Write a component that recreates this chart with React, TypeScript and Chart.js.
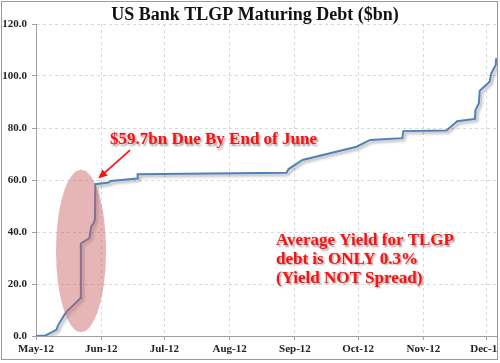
import React, { useEffect, useRef } from "react";
import { Chart, registerables } from "chart.js";

Chart.register(...registerables);

// Days after 1 May 2012 and cumulative maturing debt ($bn)
const dayOffsets = [
  0, 4.5, 7.4, 9.8, 10.4, 13.8, 14.6, 21.1, 21.3, 25.3, 26.3, 27.3, 28.0, 28.2,
  34.5, 35.5, 48.0, 48.3, 119.0, 120.0, 126.6, 152.3, 158.7, 174.0, 174.5, 195.0,
  200.1, 208.5, 208.8, 210.4, 210.8, 215.5, 216.3, 218.4, 218.6,
];
const debtValues = [
  0, 0.2, 1.4, 2.5, 4.0, 8.5, 9.4, 14.5, 35.6, 37.6, 42.2, 43.2, 44.8, 58.4,
  59.0, 59.6, 60.6, 62.2, 62.8, 64.2, 67.7, 72.8, 75.4, 76.1, 78.8, 79.0,
  82.6, 83.5, 86.9, 89.5, 94.3, 97.8, 101.0, 104.2, 106.8,
];
const monthTicks = [0, 31, 61, 92, 123, 153, 184, 214];
const monthLabels = ["May-12", "Jun-12", "Jul-12", "Aug-12", "Sep-12", "Oct-12", "Nov-12", "Dec-12"];
const yTicks = [0, 20, 40, 60, 80, 100, 120];

const titleText = "US Bank TLGP Maturing Debt ($bn)";
const noteJune = "$59.7bn Due By End of June";
const noteJuneAt = { x: 35.2, y: 73.8 };
const arrowFrom = { x: 44.7, y: 71.5 };
const arrowTo = { x: 29.6, y: 60.6 };
const ellipseCenter = { x: 21.4, y: 32.7 };
const ellipseRadius = { x: 11.9, y: 31.2 };
const yieldLines = ["Average Yield for TLGP", "debt is ONLY 0.3%", "(Yield NOT Spread)"];
const yieldAt = { x: 114, y: [35.0, 27.7, 20.4] };

const SERIF = "'Liberation Serif', 'Times New Roman', serif";

export default function App() {
  const ref = useRef<HTMLCanvasElement | null>(null);

  useEffect(() => {
    document.body.style.margin = "0";
    const canvas = ref.current;
    if (!canvas) return;

    const shadowPlugin = {
      id: "lineShadow",
      beforeDatasetDraw(chart: any) {
        const ctx = chart.ctx;
        ctx.save();
        ctx.shadowColor = "rgba(0,0,0,0.35)";
        ctx.shadowBlur = 3;
        ctx.shadowOffsetX = 2;
        ctx.shadowOffsetY = 2;
      },
      afterDatasetDraw(chart: any) {
        chart.ctx.restore();
      },
    };

    const decorPlugin = {
      id: "decor",
      afterDraw(chart: any) {
        const ctx = chart.ctx as CanvasRenderingContext2D;
        const xs = chart.scales.x;
        const ys = chart.scales.y;

        // ellipse
        const cx = xs.getPixelForValue(ellipseCenter.x);
        const cy = ys.getPixelForValue(ellipseCenter.y);
        const rx = xs.getPixelForValue(ellipseCenter.x + ellipseRadius.x) - cx;
        const ry = cy - ys.getPixelForValue(ellipseCenter.y + ellipseRadius.y);
        ctx.save();
        ctx.fillStyle = "rgba(200,90,90,0.45)";
        ctx.beginPath();
        ctx.ellipse(cx, cy, rx, ry, 0, 0, Math.PI * 2);
        ctx.fill();
        ctx.restore();

        // title
        ctx.save();
        ctx.fillStyle = "#111";
        ctx.font = `bold 18px ${SERIF}`;
        ctx.textAlign = "center";
        ctx.textBaseline = "alphabetic";
        ctx.fillText(titleText, 255, 20);
        ctx.restore();

        // red notes
        ctx.save();
        ctx.fillStyle = "#ff1010";
        ctx.font = `bold 17px ${SERIF}`;
        ctx.textAlign = "left";
        ctx.textBaseline = "alphabetic";
        ctx.shadowColor = "rgba(0,0,0,0.4)";
        ctx.shadowBlur = 2;
        ctx.shadowOffsetX = 1.5;
        ctx.shadowOffsetY = 1.5;
        ctx.fillText(noteJune, xs.getPixelForValue(noteJuneAt.x), ys.getPixelForValue(noteJuneAt.y));
        yieldLines.forEach((t, i) => {
          ctx.fillText(t, xs.getPixelForValue(yieldAt.x), ys.getPixelForValue(yieldAt.y[i]));
        });
        ctx.restore();

        // arrow
        const ax0 = xs.getPixelForValue(arrowFrom.x);
        const ay0 = ys.getPixelForValue(arrowFrom.y);
        const ax1 = xs.getPixelForValue(arrowTo.x);
        const ay1 = ys.getPixelForValue(arrowTo.y);
        const ang = Math.atan2(ay1 - ay0, ax1 - ax0);
        const hl = 9;
        const hw = 4;
        ctx.save();
        ctx.strokeStyle = "#ff1010";
        ctx.fillStyle = "#ff1010";
        ctx.lineWidth = 1.6;
        ctx.beginPath();
        ctx.moveTo(ax0, ay0);
        ctx.lineTo(ax1 - Math.cos(ang) * hl * 0.8, ay1 - Math.sin(ang) * hl * 0.8);
        ctx.stroke();
        ctx.beginPath();
        ctx.moveTo(ax1, ay1);
        ctx.lineTo(
          ax1 - Math.cos(ang) * hl + Math.sin(ang) * hw,
          ay1 - Math.sin(ang) * hl - Math.cos(ang) * hw
        );
        ctx.lineTo(
          ax1 - Math.cos(ang) * hl - Math.sin(ang) * hw,
          ay1 - Math.sin(ang) * hl + Math.cos(ang) * hw
        );
        ctx.closePath();
        ctx.fill();
        ctx.restore();

        // clip outside the frame, then draw frame
        ctx.save();
        ctx.fillStyle = "#fff";
        ctx.fillRect(498, 0, 2, 363);
        ctx.fillRect(0, 360, 500, 3);
        ctx.strokeStyle = "#9a9a9a";
        ctx.lineWidth = 1;
        ctx.strokeRect(1.5, 1.5, 496, 358);
        ctx.restore();
      },
    };

    const chart = new Chart(canvas, {
      type: "line",
      data: {
        datasets: [
          {
            data: dayOffsets.map((d, i) => ({ x: d, y: debtValues[i] })),
            borderColor: "#4f81bd",
            borderWidth: 2,
            pointRadius: 0,
            tension: 0,
            fill: false,
          },
        ],
      },
      options: {
        responsive: false,
        animation: false,
        parsing: false as any,
        layout: { padding: { left: 0, right: 3, top: 24, bottom: 0 } },
        plugins: { legend: { display: false }, tooltip: { enabled: false }, title: { display: false } },
        scales: {
          x: {
            type: "linear",
            min: 0,
            max: 219,
            afterBuildTicks(scale: any) {
              scale.ticks = monthTicks.map((v) => ({ value: v }));
            },
            afterFit(scale: any) {
              scale.height = 27;
              scale.paddingLeft = 0;
              scale.paddingRight = 0;
            },
            ticks: {
              autoSkip: false,
              maxRotation: 0,
              padding: 3,
              color: "#222",
              font: { family: SERIF, size: 11, weight: "bold" },
              callback: (v: any) => {
                const i = monthTicks.indexOf(Number(v));
                return i >= 0 ? monthLabels[i] : "";
              },
            },
            grid: { color: "#d9d9d9", tickLength: 4, tickColor: "#a0a0a0", lineWidth: 1 },
            border: { display: true, color: "#a0a0a0", width: 1, dash: [3, 3] },
          },
          y: {
            type: "linear",
            min: 0,
            max: 120,
            afterBuildTicks(scale: any) {
              scale.ticks = yTicks.map((v) => ({ value: v }));
            },
            afterFit(scale: any) {
              scale.width = 36;
              scale.paddingTop = 0;
              scale.paddingBottom = 0;
            },
            ticks: {
              padding: 5,
              color: "#222",
              font: { family: SERIF, size: 11, weight: "bold" },
              callback: (v: any) => Number(v).toFixed(1),
            },
            grid: { color: "#d9d9d9", tickLength: 4, tickColor: "#a0a0a0", lineWidth: 1 },
            border: { display: true, color: "#a0a0a0", width: 1, dash: [3, 3] },
          },
        },
      } as any,
      plugins: [shadowPlugin, decorPlugin],
    });

    return () => chart.destroy();
  }, []);

  return (
    <div style={{ position: "absolute", left: 0, top: 0, width: 500, height: 363, background: "#fff" }}>
      <canvas ref={ref} width={500} height={363} style={{ display: "block", width: 500, height: 363 }} />
    </div>
  );
}
